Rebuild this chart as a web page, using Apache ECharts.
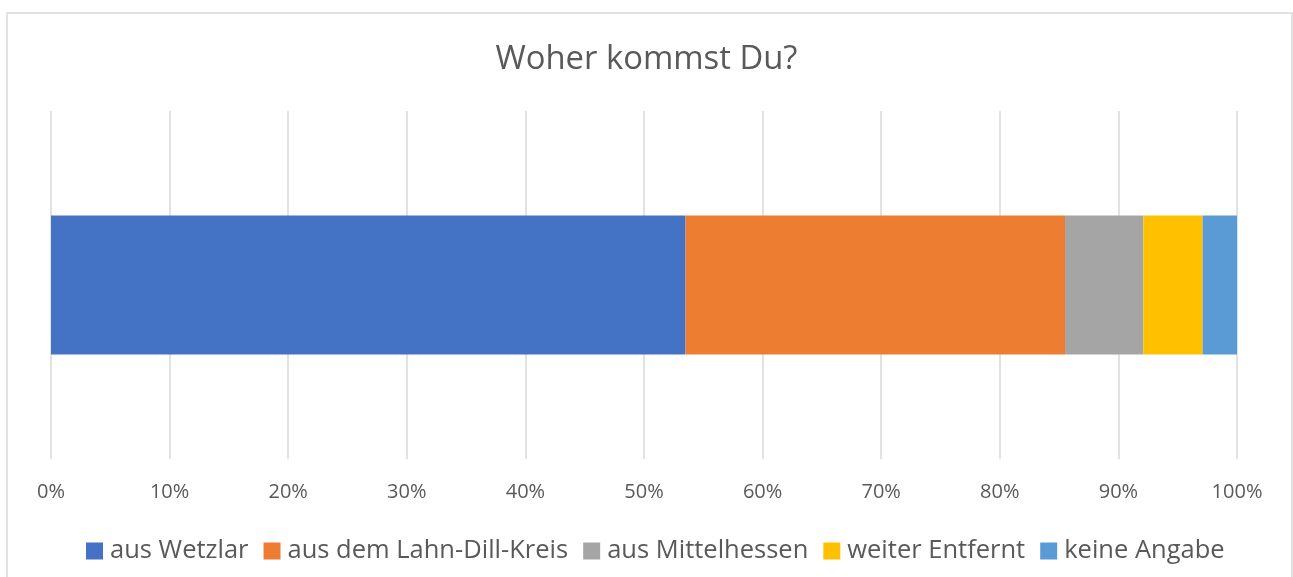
<!DOCTYPE html>
<html>
<head>
<meta charset="utf-8">
<script src="https://cdn.jsdelivr.net/npm/echarts@6/dist/echarts.min.js"></script>
<style>
  html, body { margin: 0; padding: 0; background: #fff; }
  #chart { width: 1293px; height: 577px; }
</style>
</head>
<body>
<div id="chart"></div>
<script>
// share of answers per origin (percent)
const categories = [''];
const seriesNames = ['aus Wetzlar', 'aus dem Lahn-Dill-Kreis', 'aus Mittelhessen', 'weiter Entfernt', 'keine Angabe'];
const seriesValues = [53.5, 32.0, 6.6, 5.0, 2.9];
const seriesColors = ['#4472C4', '#ED7D31', '#A5A5A5', '#FFC000', '#5B9BD5'];
const tickValues = [0, 10, 20, 30, 40, 50, 60, 70, 80, 90, 100];

const textColor = '#595959';
const fontFamily = '"Open Sans", sans-serif';

const chart = echarts.init(document.getElementById('chart'));

const series = seriesNames.map((name, i) => ({
  name: name,
  type: 'bar',
  stack: 'total',
  barWidth: 139,
  data: [seriesValues[i]],
  itemStyle: { color: seriesColors[i] },
  emphasis: { disabled: true },
}));

const option = {
  backgroundColor: '#fff',
  animation: false,
  textStyle: { fontFamily: fontFamily },
  title: {
    text: 'Woher kommst Du?',
    left: 'center',
    top: 38,
    textStyle: {
      color: textColor,
      fontFamily: fontFamily,
      fontSize: 32.8,
      fontWeight: 'normal',
    },
  },
  graphic: [
    {
      type: 'rect',
      shape: { x: 7, y: 13, width: 1285, height: 620 },
      style: { fill: 'none', stroke: '#d9d9d9', lineWidth: 1.5 },
      silent: true,
    },
  ],
  legend: {
    data: seriesNames,
    left: 81,
    top: 533,
    icon: 'rect',
    itemWidth: 17,
    itemHeight: 17,
    itemGap: 15,
    textStyle: {
      color: textColor,
      fontFamily: fontFamily,
      fontSize: 25.5,
      padding: [0, 0, 0, 2],
    },
    selectedMode: false,
  },
  grid: {
    left: 51,
    right: 56,
    top: 111,
    bottom: 118,
  },
  xAxis: {
    type: 'value',
    min: tickValues[0],
    max: tickValues[tickValues.length - 1],
    interval: 10,
    axisLine: { show: false },
    axisTick: { show: false },
    axisLabel: {
      color: textColor,
      fontFamily: fontFamily,
      fontSize: 20,
      margin: 23,
      formatter: '{value}%',
    },
    splitLine: { lineStyle: { color: '#d9d9d9', width: 1.5 } },
  },
  yAxis: {
    type: 'category',
    data: categories,
    axisLine: { show: false },
    axisTick: { show: false },
    axisLabel: { show: false },
  },
  series: series,
};

chart.setOption(option);
</script>
</body>
</html>
